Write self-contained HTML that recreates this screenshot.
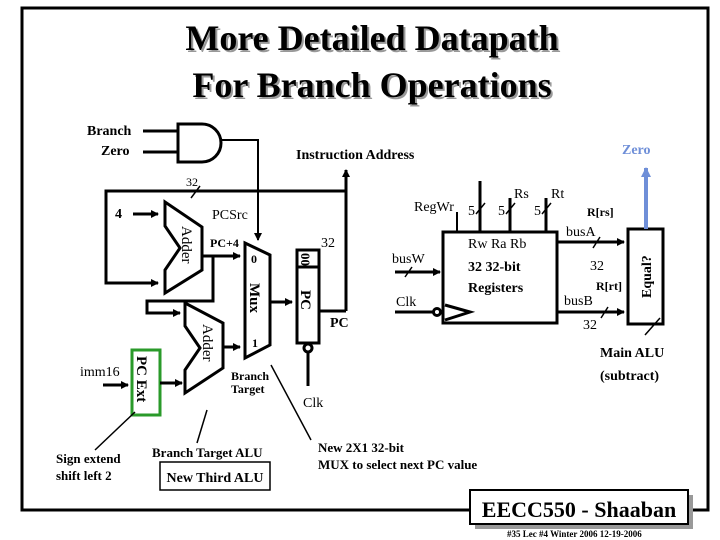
<!DOCTYPE html>
<html><head><meta charset="utf-8"><style>
body{margin:0;background:#fff}
svg{display:block}
text{font-family:"Liberation Serif",serif}
</style></head><body>
<svg width="720" height="540" viewBox="0 0 720 540" xmlns="http://www.w3.org/2000/svg">
<defs>
<marker id="a" markerWidth="8" markerHeight="8" refX="7" refY="4" orient="auto" markerUnits="userSpaceOnUse"><path d="M0,0L8,4L0,8z" fill="#000"/></marker>
<marker id="b" markerWidth="10" markerHeight="10" refX="9" refY="5" orient="auto" markerUnits="userSpaceOnUse"><path d="M0,0L10,5L0,10z" fill="#6f8fd8"/></marker>
</defs>
<!-- frame -->
<path d="M470,510 L22,510 L22,8 L708,8 L708,510 L690,510" fill="none" stroke="#000" stroke-width="3"/>
<text x="372" y="50" font-size="36" font-weight="bold" text-anchor="middle" fill="#999" transform="translate(2,2)">More Detailed Datapath</text>
<text x="372" y="50" font-size="36" font-weight="bold" text-anchor="middle">More Detailed Datapath</text>
<text x="372" y="97" font-size="36" font-weight="bold" text-anchor="middle" fill="#999" transform="translate(2,2)">For Branch Operations</text>
<text x="372" y="97" font-size="36" font-weight="bold" text-anchor="middle">For Branch Operations</text>

<g stroke="#000" stroke-width="3" fill="none">
<!-- AND gate -->
<path d="M178,124 L202,124 A19,19 0 0 1 202,162 L178,162 Z" fill="#fff"/>
<line x1="143" y1="131" x2="178" y2="131"/>
<line x1="143" y1="152" x2="178" y2="152"/>
<path d="M221,140 L258,140 L258,240" stroke-width="2" marker-end="url(#a)"/>
<!-- loop -->
<path d="M346,311 L346,170" marker-end="url(#a)"/>
<path d="M346,191 L106,191 L106,283 L158,283" marker-end="url(#a)"/>
<line x1="133" y1="214" x2="158" y2="214" marker-end="url(#a)"/>
<!-- adder1 -->
<path d="M165,202 L202,227 L202,270 L165,293 L165,270 L180,248 L165,226 Z" fill="#fff"/>
<!-- pc+4 -->
<line x1="202" y1="256" x2="240" y2="256" marker-end="url(#a)"/>
<path d="M213,256 L213,301 L147,301 L147,313 L180,313" marker-end="url(#a)"/>
<!-- adder2 -->
<path d="M185,303 L223,323 L223,368 L185,393 L185,370 L200,348 L185,326 Z" fill="#fff"/>
<line x1="223" y1="347" x2="240" y2="347" marker-end="url(#a)"/>
<!-- mux -->
<path d="M245,243 L270,255 L270,345 L245,358 Z" fill="#fff"/>
<line x1="270" y1="302" x2="292" y2="302" marker-end="url(#a)"/>
<!-- PC -->
<rect x="297" y="250" width="22" height="93" fill="#fff"/>
<line x1="297" y1="267" x2="319" y2="267"/>
<line x1="319" y1="311" x2="346" y2="311"/>
<circle cx="308" cy="348" r="4" fill="#fff"/>
<line x1="308" y1="352" x2="308" y2="386"/>
<!-- PC Ext -->
<rect x="132" y="350" width="28" height="65" stroke="#2a9a2a"/>
<line x1="103" y1="385" x2="128" y2="385" marker-end="url(#a)"/>
<line x1="160" y1="383" x2="182" y2="383" marker-end="url(#a)"/>
<!-- register file -->
<rect x="443" y="232" width="114" height="91" fill="#fff"/>
<line x1="457" y1="212" x2="457" y2="232" stroke-width="2"/>
<line x1="480" y1="181" x2="480" y2="232"/>
<line x1="510" y1="198" x2="510" y2="232"/>
<line x1="546" y1="198" x2="546" y2="232"/>
<line x1="395" y1="272" x2="440" y2="272" marker-end="url(#a)"/>
<line x1="395" y1="312" x2="434" y2="312"/>
<circle cx="437" cy="312" r="3.5" fill="#fff"/>
<path d="M445,305 L470,312 L445,320"/>
<line x1="557" y1="242" x2="624" y2="242" marker-end="url(#a)"/>
<line x1="557" y1="312" x2="624" y2="312" marker-end="url(#a)"/>
<rect x="628" y="229" width="35" height="95" fill="#fff"/>
<line x1="646" y1="229" x2="646" y2="168" stroke="#6f8fd8" stroke-width="4" marker-end="url(#b)"/>
</g>
<g stroke="#000" stroke-width="1.5">
<line x1="191" y1="198" x2="200" y2="186"/>
<line x1="476" y1="214" x2="485" y2="203"/>
<line x1="506" y1="214" x2="515" y2="203"/>
<line x1="542" y1="214" x2="551" y2="203"/>
<line x1="405" y1="277" x2="412" y2="267"/>
<line x1="593" y1="248" x2="600" y2="237"/>
<line x1="601" y1="318" x2="608" y2="307"/>
<line x1="660" y1="318" x2="645" y2="335"/>
<line x1="135" y1="412" x2="95" y2="450"/>
<line x1="207" y1="410" x2="197" y2="443"/>
<line x1="271" y1="365" x2="311" y2="440"/>
</g>
<!-- labels -->
<g font-size="14">
<text x="87" y="135" font-weight="bold">Branch</text>
<text x="101" y="155" font-weight="bold">Zero</text>
<text x="296" y="159" font-weight="bold">Instruction Address</text>
<text x="622" y="154" font-weight="bold" fill="#6f8fd8">Zero</text>
<text x="186" y="186" font-size="12">32</text>
<text x="115" y="218" font-weight="bold">4</text>
<text x="212" y="219">PCSrc</text>
<text x="210" y="247" font-size="12" font-weight="bold">PC+4</text>
<text x="251" y="263" font-size="12" font-weight="bold">0</text>
<text x="252" y="347" font-size="12" font-weight="bold">1</text>
<text x="321" y="247">32</text>
<text x="330" y="327" font-weight="bold">PC</text>
<text x="80" y="376">imm16</text>
<text x="231" y="380" font-size="12" font-weight="bold">Branch</text>
<text x="231" y="393" font-size="12" font-weight="bold">Target</text>
<text x="303" y="407">Clk</text>
<text x="414" y="211">RegWr</text>
<text x="468" y="215">5</text>
<text x="498" y="215">5</text>
<text x="534" y="215">5</text>
<text x="514" y="198">Rs</text>
<text x="551" y="198">Rt</text>
<text x="587" y="216" font-size="12" font-weight="bold">R[rs]</text>
<text x="566" y="236">busA</text>
<text x="590" y="270">32</text>
<text x="596" y="290" font-size="12" font-weight="bold">R[rt]</text>
<text x="564" y="305">busB</text>
<text x="583" y="329">32</text>
<text x="392" y="263">busW</text>
<text x="396" y="306">Clk</text>
<text x="468" y="248">Rw  Ra  Rb</text>
<text x="468" y="271" font-weight="bold">32 32-bit</text>
<text x="468" y="292" font-weight="bold">Registers</text>
<text x="600" y="357" font-weight="bold">Main ALU</text>
<text x="600" y="380" font-weight="bold">(subtract)</text>
<text x="56" y="463" font-size="13" font-weight="bold">Sign extend</text>
<text x="56" y="480" font-size="13" font-weight="bold">shift left 2</text>
<text x="152" y="457" font-size="13" font-weight="bold">Branch Target ALU</text>
<text x="318" y="452" font-size="13" font-weight="bold">New 2X1 32-bit</text>
<text x="318" y="469" font-size="13" font-weight="bold">MUX to select next PC value</text>
</g>
<!-- rotated labels -->
<text transform="translate(182,226) rotate(90)" font-size="15">Adder</text>
<text transform="translate(203,324) rotate(90)" font-size="15">Adder</text>
<text transform="translate(250,283) rotate(90)" font-size="15" font-weight="bold">Mux</text>
<text transform="translate(301,290) rotate(90)" font-size="15" font-weight="bold">PC</text>
<text transform="translate(301,253) rotate(90)" font-size="13" font-weight="bold">00</text>
<text transform="translate(137,356) rotate(90)" font-size="15" font-weight="bold">PC Ext</text>
<text transform="translate(651,298) rotate(-90)" font-size="14" font-weight="bold">Equal?</text>
<rect x="160" y="462" width="110" height="28" fill="#fff" stroke="#000" stroke-width="1.5"/>
<text x="215" y="482" font-size="14" font-weight="bold" text-anchor="middle">New Third ALU</text>
<!-- footer box -->
<rect x="475" y="495" width="218" height="34" fill="#999"/>
<rect x="470" y="490" width="218" height="34" fill="#fff" stroke="#000" stroke-width="2"/>
<text x="579" y="517" font-size="22" font-weight="bold" text-anchor="middle">EECC550 - Shaaban</text>
<text x="507" y="537" font-size="9" font-weight="bold">#35  Lec #4  Winter 2006  12-19-2006</text>
</svg>
</body></html>
